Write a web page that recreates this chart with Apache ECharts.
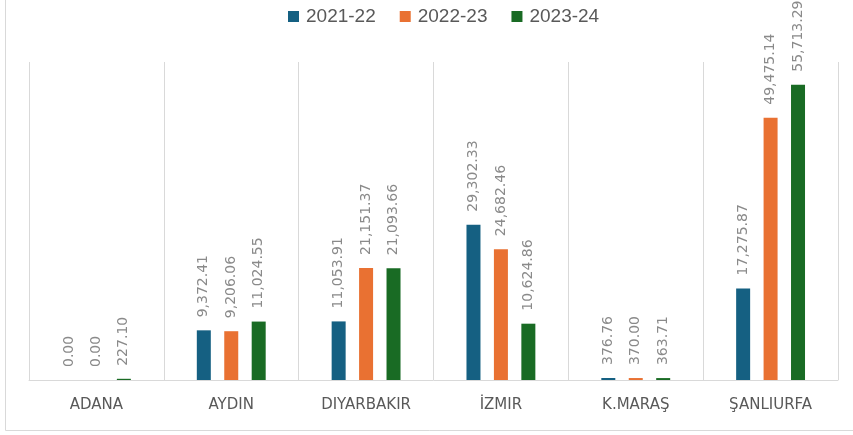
<!DOCTYPE html>
<html>
<head>
<meta charset="utf-8">
<script src="https://cdn.jsdelivr.net/npm/echarts@6/dist/echarts.min.js"></script>
<style>html,body{margin:0;padding:0;background:#fff;}#c{width:853px;height:435px;}</style>
</head>
<body>
<div id="c"></div>
<script>
const categories = ['ADANA', 'AYDIN', 'DIYARBAKIR', 'İZMIR', 'K.MARAŞ', 'ŞANLIURFA'];
const seriesNames = ['2021-22', '2022-23', '2023-24'];
const values2122 = [0, 9372.41, 11053.91, 29302.33, 376.76, 17275.87];
const values2223 = [0, 9206.06, 21151.37, 24682.46, 370.00, 49475.14];
const values2324 = [227.10, 11024.55, 21093.66, 10624.86, 363.71, 55713.29];
const colors = ['#156082', '#E97132', '#196B24'];

const fmt = v => Number(v).toLocaleString('en-US', {minimumFractionDigits: 2, maximumFractionDigits: 2});
const chart = echarts.init(document.getElementById('c'), null, {renderer: 'canvas'});
const mk = (name, data, color) => ({
  name, type: 'bar', data, barWidth: 14, barGap: '96%',
  itemStyle: {color},
  label: {
    show: true, position: 'top', rotate: 90, distance: 13,
    align: 'left', verticalAlign: 'middle',
    color: '#8a8a8a', fontSize: 14, fontFamily: 'DejaVu Sans',
    formatter: p => fmt(p.value)
  }
});
chart.setOption({
  animation: false,
  color: colors,
  legend: {
    top: 2, left: 283, itemWidth: 11, itemHeight: 11, itemGap: 24,
    icon: 'rect',
    textStyle: {color: '#595959', fontSize: 19, fontFamily: 'Liberation Sans', padding: [0, 0, 0, 2]},
    data: seriesNames
  },
  grid: {left: 29, right: 15, top: 62, bottom: 55},
  xAxis: {
    type: 'category', data: categories,
    axisLine: {lineStyle: {color: '#d9d9d9'}},
    axisTick: {show: false},
    splitLine: {show: true, lineStyle: {color: '#d9d9d9'}},
    axisLabel: {color: '#595959', fontSize: 15, margin: 18, fontFamily: 'DejaVu Sans'}
  },
  yAxis: {type: 'value', min: 0, max: 60000, show: false, splitLine: {show: false}},
  graphic: [{
    type: 'polyline', silent: true,
    shape: {points: [[5.5, 0], [5.5, 430.5], [853, 430.5]]},
    style: {stroke: '#d9d9d9', fill: null, lineWidth: 1}
  }],
  series: [
    mk(seriesNames[0], values2122, colors[0]),
    mk(seriesNames[1], values2223, colors[1]),
    mk(seriesNames[2], values2324, colors[2])
  ]
});
</script>
</body>
</html>
